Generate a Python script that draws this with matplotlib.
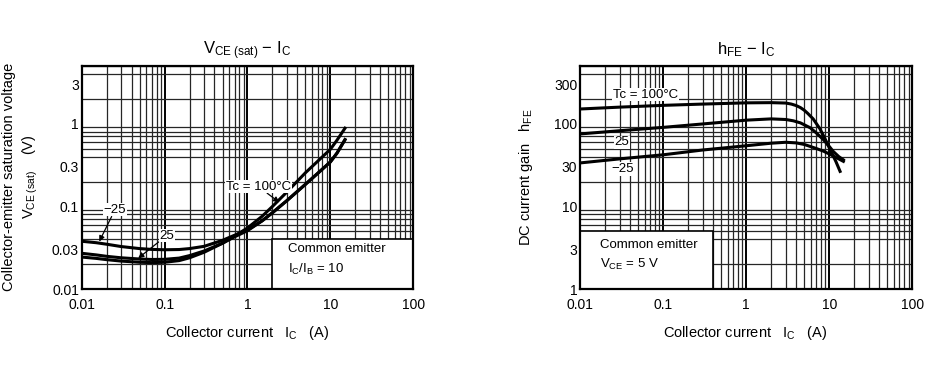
import numpy as np
import matplotlib
matplotlib.use('Agg')
import matplotlib.pyplot as plt
from matplotlib.patches import Rectangle
from matplotlib.ticker import LogLocator, NullFormatter, FixedLocator

plt.rcParams['font.family'] = ['Liberation Sans', 'DejaVu Sans']
plt.rcParams['mathtext.fontset'] = 'custom'
plt.rcParams['mathtext.rm'] = 'Liberation Sans'
plt.rcParams['mathtext.it'] = 'Liberation Sans'

# VCE(sat) - IC data
ic_vce = [0.01, 0.015, 0.02, 0.03, 0.05, 0.07, 0.1, 0.15, 0.2, 0.3, 0.5, 0.7,
          1, 1.5, 2, 3, 5, 7, 10, 12, 15]
vce_100 = [0.0245, 0.0236, 0.0228, 0.0219, 0.0212, 0.021, 0.0212, 0.0222, 0.024, 0.028, 0.036, 0.044,
           0.055, 0.076, 0.100, 0.150, 0.255, 0.35, 0.49, 0.63, 0.88]
vce_25 = [0.0272, 0.026, 0.0250, 0.024, 0.0232, 0.0229, 0.023, 0.0238, 0.0255, 0.029, 0.036, 0.043,
          0.051, 0.067, 0.084, 0.118, 0.185, 0.25, 0.345, 0.44, 0.64]
vce_m25 = [0.038, 0.0365, 0.035, 0.0328, 0.031, 0.0303, 0.030, 0.0302, 0.031, 0.033, 0.039, 0.045,
           0.052, 0.067, 0.084, 0.118, 0.185, 0.25, 0.345, 0.44, 0.64]

# hFE - IC data
ic_hfe_100 = [0.01, 0.03, 0.1, 0.3, 1, 2, 3, 3.5, 4, 4.5, 5, 5.5, 6.4, 7.7, 9, 10.2, 12, 13.5]
hfe_100 = [150, 158, 166, 172, 178, 179, 177, 172, 165, 156, 145, 133, 114, 87, 64, 49, 35, 26.5]
ic_hfe_25 = [0.01, 0.03, 0.1, 0.3, 1, 2, 3, 3.7, 4.5, 5.9, 7, 8.5, 10, 11.2, 13, 14.8]
hfe_25 = [75, 82, 90, 99, 110, 114, 112, 108, 102, 89, 77, 64, 53, 46, 40, 36.5]
ic_hfe_m25 = [0.01, 0.03, 0.1, 0.3, 1, 2, 3, 4, 5, 5.9, 7, 8.5, 10, 11.2, 13, 14.8]
hfe_m25 = [33.5, 37.5, 42, 48, 54, 58, 59.5, 58.5, 56, 53, 50, 46.5, 43, 40.5, 37.5, 35]

fig = plt.figure(figsize=(9.43, 3.69), dpi=100)
ax1 = fig.add_axes([0.0866, 0.216, 0.3517, 0.606])
ax2 = fig.add_axes([0.615, 0.216, 0.3525, 0.606])


def setup(ax, ylim, yticks, ylabels):
    ax.set_xscale('log')
    ax.set_yscale('log')
    ax.set_xlim(0.01, 100)
    ax.set_ylim(*ylim)
    ax.set_axisbelow(True)
    ax.xaxis.set_major_locator(FixedLocator([0.01, 0.1, 1, 10, 100]))
    ax.set_xticklabels(['0.01', '0.1', '1', '10', '100'])
    ax.xaxis.set_minor_locator(LogLocator(base=10, subs=np.arange(2, 10)))
    ax.xaxis.set_minor_formatter(NullFormatter())
    ax.yaxis.set_major_locator(FixedLocator(yticks))
    ax.set_yticklabels(ylabels)
    ax.yaxis.set_minor_locator(LogLocator(base=10, subs=np.arange(1, 10)))
    ax.yaxis.set_minor_formatter(NullFormatter())
    ax.tick_params(which='both', length=0, labelsize=10)
    ax.tick_params(axis='x', pad=6)
    ax.tick_params(axis='y', pad=2)
    ax.grid(which='minor', color='0.15', lw=0.9)
    ax.grid(which='major', axis='x', color='black', lw=1.4)
    for s in ax.spines.values():
        s.set_linewidth(1.6)


setup(ax1, (0.01, 5), [0.01, 0.03, 0.1, 0.3, 1, 3], ['0.01', '0.03', '0.1', '0.3', '1', '3'])
setup(ax2, (1, 500), [1, 3, 10, 30, 100, 300], ['1', '3', '10', '30', '100', '300'])

# left chart
ax1.add_patch(Rectangle((2, 0.01), 98, 0.03, facecolor='white', edgecolor='black', lw=1.2, zorder=1))
ax1.text(3.1, 0.0305, 'Common emitter', fontsize=9.5, va='center', zorder=4)
ax1.text(3.1, 0.0176, r'$\mathregular{I_C/I_B}$ = 10', fontsize=9.5, va='center', zorder=4)
for yv in [vce_100, vce_25, vce_m25]:
    ax1.plot(ic_vce, yv, color='black', lw=2.2, zorder=3)

lbl = dict(facecolor='white', edgecolor='none', pad=0.5)
arr = dict(arrowstyle='-|>', color='black', lw=0.9, mutation_scale=8, shrinkA=0, shrinkB=0)
ax1.annotate('\u221225', xy=(0.0163, 0.0377), xytext=(0.0252, 0.091), fontsize=9.5,
             ha='center', va='center', bbox=lbl, arrowprops=arr, zorder=4)
ax1.annotate('25', xy=(0.048, 0.0237), xytext=(0.106, 0.0445), fontsize=9.5,
             ha='center', va='center', bbox=lbl, arrowprops=arr, zorder=4)
ax1.annotate('Tc = 100\u00b0C', xy=(2.42, 0.112), xytext=(1.35, 0.174), fontsize=9.5,
             ha='center', va='center', bbox=lbl, arrowprops=arr, zorder=4)
ax1.set_title(r'$\mathregular{V_{CE\ (sat)}}$ $\mathregular{-}$ $\mathregular{I_C}$', fontsize=12, pad=8)

# right chart
ax2.add_patch(Rectangle((0.01, 1), 0.39, 4, facecolor='white', edgecolor='black', lw=1.2, zorder=1))
ax2.text(0.0175, 3.45, 'Common emitter', fontsize=9.5, va='center', zorder=4)
ax2.text(0.0175, 1.97, r'$\mathregular{V_{CE}}$ = 5 V', fontsize=9.5, va='center', zorder=4)
ax2.plot(ic_hfe_100, hfe_100, color='black', lw=2.2, zorder=3)
ax2.plot(ic_hfe_25, hfe_25, color='black', lw=2.2, zorder=3)
ax2.plot(ic_hfe_m25, hfe_m25, color='black', lw=2.2, zorder=3)
ax2.text(0.0617, 223, 'Tc = 100\u00b0C', fontsize=9.5, ha='center', va='center', bbox=lbl, zorder=4)
ax2.text(0.0318, 59.5, '25', fontsize=9.5, ha='center', va='center', bbox=lbl, zorder=4)
ax2.text(0.033, 28.4, '\u221225', fontsize=9.5, ha='center', va='center', bbox=lbl, zorder=4)
ax2.set_title(r'$\mathregular{h_{FE}}$ $\mathregular{-}$ $\mathregular{I_C}$', fontsize=12, pad=8)

# axis labels
fig.text(247 / 943, 1 - 333 / 369, r'Collector current   $\mathregular{I_C}$   (A)', fontsize=10.5,
         ha='center', va='center')
fig.text(745 / 943, 1 - 333 / 369, r'Collector current   $\mathregular{I_C}$   (A)', fontsize=10.5,
         ha='center', va='center')
fig.text(9.5 / 943, 1 - 177 / 369, 'Collector-emitter saturation voltage', fontsize=10.5,
         rotation=90, ha='center', va='center')
fig.text(30 / 943, 1 - 177 / 369, r'$\mathregular{V_{CE\ (sat)}}$    (V)', fontsize=10.5,
         rotation=90, ha='center', va='center')
fig.text(526 / 943, 1 - 177 / 369, r'DC current gain   $\mathregular{h_{FE}}$', fontsize=10.5,
         rotation=90, ha='center', va='center')

fig.savefig('out.png', dpi=100)
